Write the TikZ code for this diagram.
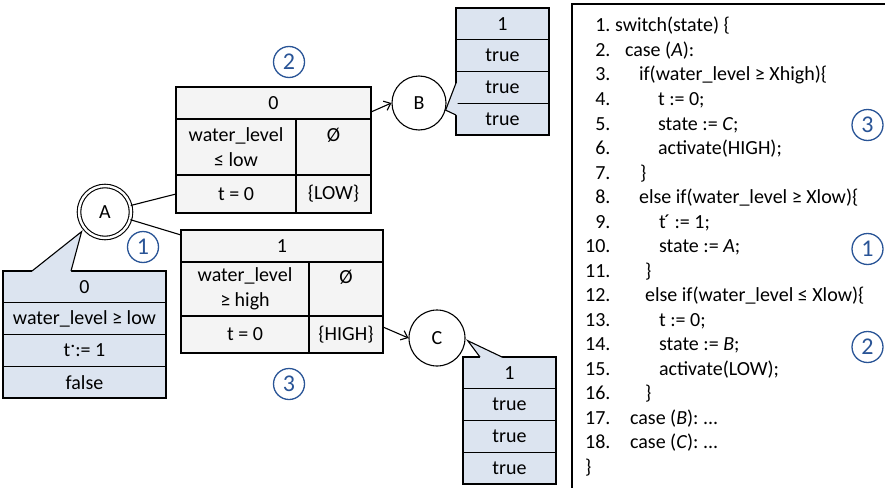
\documentclass[tikz,border=0pt]{standalone}
\usepackage{fontspec}
\setmainfont{Carlito}
\usepackage{tikz}
\usetikzlibrary{positioning, calc, arrows.meta}

\definecolor{cellgray}{RGB}{244,244,244}
\definecolor{memblue}{RGB}{220,228,240}
\definecolor{stepblue}{RGB}{41,84,150}

\tikzstyle{cell} = [rectangle, draw=black, fill=cellgray, line width=1.2pt, inner sep=0pt, outer sep=0pt, align=center]
\tikzstyle{memcell} = [cell, fill=memblue, minimum width=93, minimum height=31.75]
\tikzstyle{state} = [circle, draw=black, line width=1.1pt, fill=white, inner sep=0pt]
\tikzstyle{stepnum} = [circle, draw=stepblue, text=stepblue, line width=1.3pt, minimum size=31, inner sep=0pt, font=\fontsize{24}{24}\selectfont]
\tikzstyle{arrow} = [line width=1.1pt, -{Straight Barb[length=6pt,width=10pt]}]
\tikzstyle{link} = [line width=1.1pt]

\begin{document}
\begin{tikzpicture}[x=1pt, y=-1pt, font=\fontsize{20}{24.5}\selectfont]
    \clip (0,0) rectangle (885,487);

    % States
    \node (A) [state, minimum size=52, double, double distance=2.4pt] at (105,212) {A};
    \node (B) [state, minimum size=54] at (419,103) {B};
    \node (C) [state, minimum size=56] at (437,338) {C};

    % Transition A -> B
    \node (t2head) [cell, minimum width=195, minimum height=32] at (273.5,103) {0};
    \node (t2guard) [cell, minimum width=120, minimum height=56, below right=0pt of t2head.south west] {water\_level\\≤ low};
    \node (t2act) [cell, minimum width=75, minimum height=56, right=0pt of t2guard] {Ø\\\mbox{}};
    \node (t2reset) [cell, minimum width=120, minimum height=38, below=0pt of t2guard] {t = 0};
    \node (t2out) [cell, minimum width=75, minimum height=38, right=0pt of t2reset] {\{LOW\}};

    % Transition A -> C
    \node (t3head) [cell, minimum width=202, minimum height=32] at (282,246) {1};
    \node (t3guard) [cell, minimum width=128, minimum height=54, below right=0pt of t3head.south west] {water\_level\\≥ high};
    \node (t3act) [cell, minimum width=74, minimum height=54, right=0pt of t3guard] {Ø\\\mbox{}};
    \node (t3reset) [cell, minimum width=128, minimum height=37, below=0pt of t3guard] {t = 0};
    \node (t3out) [cell, minimum width=74, minimum height=37, right=0pt of t3reset] {\{HIGH\}};

    % Memory of A
    \node (mA0) [memcell, minimum width=163] at (84.5,286.9) {0};
    \node (mA1) [memcell, minimum width=163, below=0pt of mA0] {water\_level ≥ low};
    \node (mA2) [memcell, minimum width=163, below=0pt of mA1] {t\raisebox{0.45em}{.}:= 1};
    \node (mA3) [memcell, minimum width=163, below=0pt of mA2] {false};

    % Memory of B
    \node (mB0) [memcell] at (502.5,23.9) {1};
    \node (mB1) [memcell, below=0pt of mB0] {true};
    \node (mB2) [memcell, below=0pt of mB1] {true};
    \node (mB3) [memcell, below=0pt of mB2] {true};

    % Memory of C
    \node (mC0) [memcell] at (509.5,372.9) {1};
    \node (mC1) [memcell, below=0pt of mC0] {true};
    \node (mC2) [memcell, below=0pt of mC1] {true};
    \node (mC3) [memcell, below=0pt of mC2] {true};

    % Callout pointers
    \coordinate (tipA) at ($(A)!1.15!(A.220)$);
    \coordinate (tipB) at (B.-15);
    \coordinate (tipC) at ($(C)!1.08!(C.-5)$);
    \fill[memblue] ($(mA0.north west)+(29,0)$) -- (tipA) -- ($(mA0.north west)+(68,0)$) -- ($(mA0.north west)+(68,1.5)$) -- ($(mA0.north west)+(29,1.5)$) -- cycle;
    \draw[link] ($(mA0.north west)+(29,0)$) -- (tipA) -- ($(mA0.north west)+(68,0)$);
    \fill[memblue] ($(mB0.north west)+(0,75)$) -- (tipB) -- ($(mB0.north west)+(0,107)$) -- ($(mB0.north west)+(1.5,107)$) -- ($(mB0.north west)+(1.5,75)$) -- cycle;
    \draw[link] ($(mB0.north west)+(0,75)$) -- (tipB) -- ($(mB0.north west)+(0,107)$);
    \fill[memblue] ($(mC0.north west)+(17,0)$) -- (tipC) -- ($(mC0.north west)+(39,0)$) -- ($(mC0.north west)+(39,1.5)$) -- ($(mC0.north west)+(17,1.5)$) -- cycle;
    \draw[link] ($(mC0.north west)+(17,0)$) -- (tipC) -- ($(mC0.north west)+(39,0)$);

    % Connectors
    \draw[link] (A) -- (t2reset.west);
    \draw[link] (A) -- ([yshift=-5pt]t3head.north west);
    \draw[arrow] ([yshift=-9pt]t2head.east) -- (B.west);
    \draw[arrow] ([yshift=7.5pt]t3out.east) -- (C.west);

    % Step numbers
    \node (s1) [stepnum] at (143,247) {1};
    \node (s2) [stepnum] at (289,62) {2};
    \node (s3) [stepnum] at (289,384) {3};

    % Code panel
    \draw[line width=1.1pt] (572,495) -- (572,4) -- (895,4);
    \node (code) [anchor=base west, inner sep=0pt] at (585,32) {%
    \begin{tabular}[t]{@{}r@{\ }l@{}}
    1. & switch(state) \{\\
    2. & \hspace{10pt}case (\textit{A}):\\
    3. & \hspace{24pt}if(water\_level ≥ Xhigh)\{\\
    4. & \hspace{43pt}t := 0;\\
    5. & \hspace{43pt}state := \textit{C};\\
    6. & \hspace{43pt}activate(HIGH);\\
    7. & \hspace{25pt}\}\\
    8. & \hspace{24pt}else if(water\_level ≥ Xlow)\{\\
    9. & \hspace{44pt}t\kern-1.5pt´ := 1;\\
    10. & \hspace{44pt}state := \textit{A};\\
    11. & \hspace{30pt}\}\\
    12. & \hspace{30pt}else if(water\_level ≤ Xlow)\{\\
    13. & \hspace{44pt}t := 0;\\
    14. & \hspace{44pt}state := \textit{B};\\
    15. & \hspace{44pt}activate(LOW);\\
    16. & \hspace{30pt}\}\\
    17. & \hspace{15pt}case (\textit{B}): ...\\
    18. & \hspace{15pt}case (\textit{C}): ...\\
    \multicolumn{2}{@{}l@{}}{\}}
    \end{tabular}};
    \node (c3) [stepnum] at (867.5,125) {3};
    \node (c1) [stepnum] at (867.5,249) {1};
    \node (c2) [stepnum] at (867.5,347) {2};
\end{tikzpicture}
\end{document}
